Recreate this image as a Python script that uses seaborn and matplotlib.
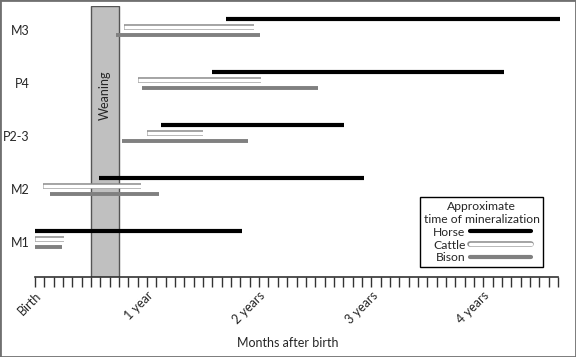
## Timing of tooth mineralization in horse, cattle and bison
import matplotlib
matplotlib.use("Agg")
import matplotlib.pyplot as plt
import matplotlib.patheffects as pe
from matplotlib.lines import Line2D
from matplotlib.patches import Rectangle
import pandas as pd
import seaborn as sns

## data, in months after birth
teeth = ["M1", "M2", "P2-3", "P4", "M3"]
horse_start = [0, 6.9, 13.5, 19.0, 20.5]
horse_end = [22.2, 35.2, 33.1, 50.2, 56.2]
cattle_start = [0, 0.9, 12.0, 11.0, 9.5]
cattle_end = [3.1, 11.3, 18.0, 24.2, 23.5]
bison_start = [0, 1.6, 9.3, 11.5, 8.7]
bison_end = [2.9, 13.3, 22.8, 30.3, 24.1]
weaning = (6, 9)
year_ticks = [0, 12, 24, 36, 48]
year_labels = ["Birth", "1 year", "2 years", "3 years", "4 years"]

## put it in a long dataframe
rows = []
for sp, st, en in [("Horse", horse_start, horse_end),
                   ("Cattle", cattle_start, cattle_end),
                   ("Bison", bison_start, bison_end)]:
    for t, s, e in zip(teeth, st, en):
        rows.append({"tooth": t, "species": sp, "start": s, "end": e})
df = pd.DataFrame(rows)

## vertical layout (axis units are ~pixels)
centers = {t: 35 + 53 * i for i, t in enumerate(teeth)}
offsets = {"Horse": 11, "Cattle": 3, "Bison": -5}
df["y"] = df["tooth"].map(centers) + df["species"].map(offsets)

sns.set_style("white")
plt.rcParams['font.family'] = ['Lato', 'DejaVu Sans']

fig = plt.figure(figsize=(5.76, 3.57), dpi=100)
ax = fig.add_axes([35 / 576, 80 / 357, 523 / 576, 271 / 357])
ax.set_xlim(0, 56)
ax.set_ylim(0, 271)

## weaning band
ax.axvspan(weaning[0], weaning[1], facecolor="#c0c0c0", edgecolor="#555555", lw=1, zorder=1)
ax.text(sum(weaning) / 2, 182, "Weaning", rotation=90, ha="center", va="center", fontsize=9, zorder=2)

cattle_fx = [pe.Stroke(linewidth=4.0, foreground="#8c8c8c"), pe.Normal()]
styles = {
    "Horse": dict(color="black", lw=3.0),
    "Cattle": dict(color="white", lw=2.5, path_effects=cattle_fx),
    "Bison": dict(color="#808080", lw=2.8),
}
for sp, kw in styles.items():
    sub = df[df["species"] == sp]
    lc = ax.hlines(sub["y"], sub["start"], sub["end"], zorder=3, clip_on=False, **kw)
    lc.set_capstyle("butt")

## x axis: a tick every month, labels each year
labels = [""] * 57
for m, lab in zip(year_ticks, year_labels):
    labels[m] = lab
ax.set_xticks(range(57))
ax.set_xticklabels(labels, rotation=45, ha="right", rotation_mode="anchor", fontsize=9)
ax.tick_params(axis="x", direction="out", length=7, width=1, color="#333333", pad=2, bottom=True)
ax.set_xlabel("Months after birth", fontsize=9)
ax.xaxis.set_label_coords(0.484, -0.22)

ax.set_yticks([centers[t] for t in teeth])
ax.set_yticklabels(teeth, fontsize=9)
ax.tick_params(axis="y", length=0, pad=4)

sns.despine(ax=ax, left=True)
ax.spines["bottom"].set_color("#333333")
ax.spines["bottom"].set_linewidth(1.2)

## legend
handles = [Line2D([], [], color="black", lw=3),
           Line2D([], [], color="white", lw=2.5, path_effects=cattle_fx),
           Line2D([], [], color="#808080", lw=3)]
leg = ax.legend(handles, ["Horse", "Cattle", "Bison"],
                title="Approximate\ntime of mineralization",
                loc="lower right", bbox_to_anchor=(0.972, 0.037), borderaxespad=0,
                markerfirst=False, handlelength=5.0, handletextpad=0.4,
                fancybox=False, edgecolor="black", framealpha=1,
                fontsize=8.7, title_fontsize=8.7, labelspacing=0.15, borderpad=0.3)
leg.get_frame().set_linewidth(1)
leg.get_title().set_multialignment("center")

## grey border round the whole picture
fig.add_artist(Rectangle((0, 0), 1, 1, transform=fig.transFigure, fill=False,
                         edgecolor="#707070", lw=2))

fig.savefig("out.png", dpi=100)
